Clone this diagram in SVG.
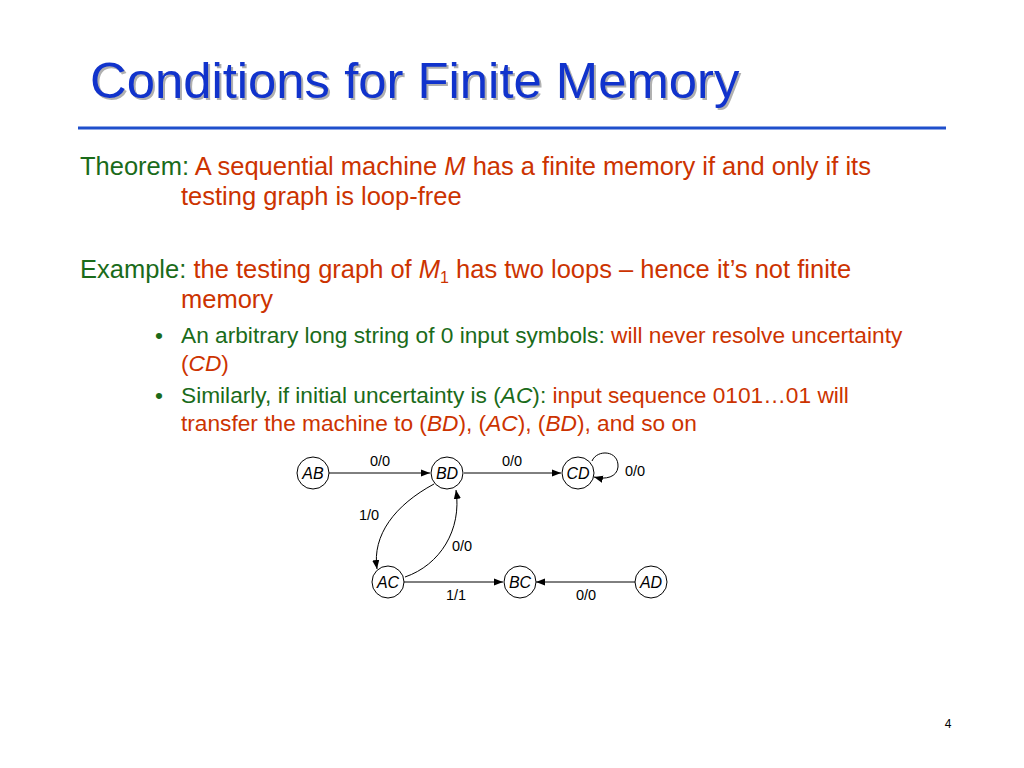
<svg xmlns="http://www.w3.org/2000/svg" width="1024" height="768" viewBox="0 0 1024 768">
<defs>
<marker id="arr" viewBox="0 0 10 10" refX="10" refY="5" markerWidth="9" markerHeight="9" markerUnits="userSpaceOnUse" orient="auto">
<path d="M0,1 L10,5 L0,9 z" fill="#000"/>
</marker>
<style>
text{font-family:"Liberation Sans",Arial,sans-serif}
.title{font-size:50.8px;fill:#1133cc}
.shadow{font-size:50.8px;fill:#b0b0b0}
.g{fill:#1a6b1a}
.r{fill:#cc3300}
.b1{font-size:25.5px}
.b2{font-size:22.7px}
.node circle{fill:#fff;stroke:#000;stroke-width:1}
.node text{font-size:16px;font-style:italic;text-anchor:middle}
.lbl{font-size:14.5px;text-anchor:middle}
.edge{fill:none;stroke:#000;stroke-width:1;marker-end:url(#arr)}
</style>
</defs>
<rect width="1024" height="768" fill="#fff"/>
<text class="shadow" x="92" y="100">Conditions for Finite Memory</text>
<text class="title" x="90" y="98">Conditions for Finite Memory</text>
<line x1="78" y1="128" x2="946" y2="128" stroke="#1f4fcc" stroke-width="3"/>

<text class="b1" x="80" y="175"><tspan class="g">Theorem: </tspan><tspan class="r">A sequential machine <tspan font-style="italic">M</tspan> has a finite memory if and only if its</tspan></text>
<text class="b1 r" x="181" y="205">testing graph is loop-free</text>

<text class="b1" x="80" y="278"><tspan class="g">Example: </tspan><tspan class="r">the testing graph of <tspan font-style="italic">M</tspan><tspan font-size="16px" dy="5">1</tspan><tspan dy="-5"> has two loops – hence it’s not finite</tspan></tspan></text>
<text class="b1 r" x="181" y="308">memory</text>

<text class="b2 g" x="155" y="343">•</text>
<text class="b2" x="181" y="343"><tspan class="g">An arbitrary long string of 0 input symbols: </tspan><tspan class="r">will never resolve uncertainty</tspan></text>
<text class="b2 r" x="181" y="371">(<tspan font-style="italic">CD</tspan>)</text>
<text class="b2 g" x="155" y="403">•</text>
<text class="b2" x="181" y="403"><tspan class="g">Similarly, if initial uncertainty is (<tspan font-style="italic">AC</tspan>): </tspan><tspan class="r">input sequence 0101…01 will</tspan></text>
<text class="b2 r" x="181" y="431">transfer the machine to (<tspan font-style="italic">BD</tspan>), (<tspan font-style="italic">AC</tspan>), (<tspan font-style="italic">BD</tspan>), and so on</text>

<g id="connectors">
<path class="edge" d="M329,473 L430,473"/>
<path class="edge" d="M464,473 L561,473"/>
<path class="edge" d="M592,461 C597,449 619,450 618,467 C617,477 606,480 594,477"/>
<path class="edge" d="M434,484 C395,505 372,535 377,569"/>
<path class="edge" d="M405,577 C440,565 462,530 456,490"/>
<path class="edge" d="M404,582 L503,582"/>
<path class="edge" d="M635,582 L536,582"/>
<text class="lbl" x="380" y="466">0/0</text>
<text class="lbl" x="512" y="466">0/0</text>
<text class="lbl" x="635" y="476">0/0</text>
<text class="lbl" x="369" y="520">1/0</text>
<text class="lbl" x="462" y="551">0/0</text>
<text class="lbl" x="456" y="600">1/1</text>
<text class="lbl" x="586" y="600">0/0</text>
</g>

<g id="AB" class="node"><circle cx="313" cy="473" r="16"/><text x="313" y="479">AB</text></g>
<g id="BD" class="node"><circle cx="447" cy="473" r="16"/><text x="447" y="479">BD</text></g>
<g id="CD" class="node"><circle cx="578" cy="473" r="16"/><text x="578" y="479">CD</text></g>
<g id="AC" class="node"><circle cx="388" cy="582" r="16"/><text x="388" y="588">AC</text></g>
<g id="BC" class="node"><circle cx="520" cy="582" r="16"/><text x="520" y="588">BC</text></g>
<g id="AD" class="node"><circle cx="651" cy="582" r="16"/><text x="651" y="588">AD</text></g>

<text x="948" y="728" font-size="12" text-anchor="middle">4</text>
</svg>
